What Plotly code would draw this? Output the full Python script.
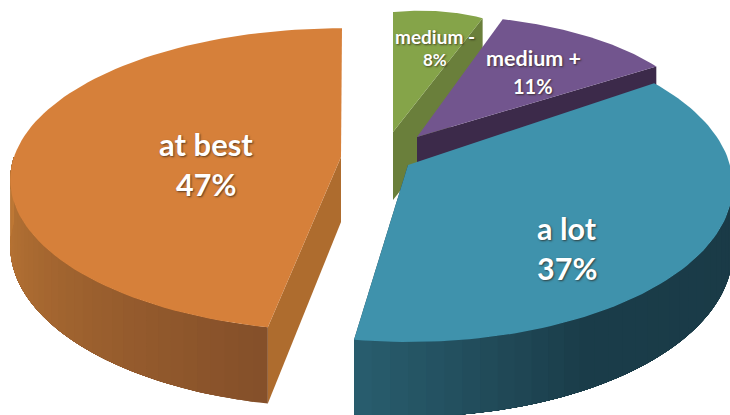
import numpy as np
import plotly.graph_objects as go

# Shares of the answers, in percent
labels = ["at best", "medium -", "medium +", "a lot"]
values = [47, 8, 11, 37]

# How each wedge sits in the exploded 3D pie
wedges = {
    "at best": dict(cx=341, cy=157, a=327, b=148, k=0.15, tilt=0, start=191.0, depth=65,
                    top="#D6803A", cut="#AE6C2E",
                    wall=[(191.0, "#85502A"), (270, "#C07A36")]),
    "medium -": dict(cx=393, cy=132, a=186, b=120, k=0.0, tilt=-18, start=0, depth=68,
                     top="#85A449", cut="#6A7F3B", wall=None),
    "medium +": dict(cx=417, cy=137, a=285, b=122, k=0.0, tilt=-5, start=17.5, depth=68,
                     top="#72558E", cut="#3C2A4A", wall=None),
    "a lot": dict(cx=408, cy=165, a=322, b=154, k=0.13, tilt=0, start=55.2, depth=65,
                  top="#3F92AC", cut="#1B3C48",
                  wall=[(90, "#1A3A46"), (150, "#1B3D4A"), (188.4, "#2A5F70")]),
}

# Label centres and font sizes: name x, y, size, then percentage x, y, size
text_spots = {
    "at best": (206, 144, 31, 206, 184, 30.5),
    "a lot": (567, 228, 30.5, 567, 268, 30.5),
    "medium +": (533, 58, 21.5, 533, 86, 20),
    "medium -": (435, 36, 19, 435, 59, 17),
}
draw_order = ["at best", "medium -", "medium +", "a lot"]


def project(w, theta):
    """Map a rim angle (degrees clockwise from 12 o'clock) to page coordinates."""
    t = np.radians(theta)
    u, v = np.sin(t), -np.cos(t)
    s = 1 / (1 - w["k"] * v)
    return w["cx"] + w["a"] * u * s, w["cy"] + w["b"] * v * s + w["tilt"] * u, s


def mix(stops, theta):
    rgb = [[int(c[i:i + 2], 16) for c in (s[1] for s in stops)] for i in (1, 3, 5)]
    pos = [s[0] for s in stops]
    return "rgb(%d,%d,%d)" % tuple(np.interp(theta, pos, ch) for ch in rgb)


def poly(xs, ys, color):
    return go.Scatter(x=list(xs), y=list(ys), mode="lines", fill="toself", fillcolor=color,
                      line=dict(color=color, width=0), hoverinfo="skip", showlegend=False)


fig = go.Figure()
for name in draw_order:
    w = wedges[name]
    share = values[labels.index(name)]
    start, end = w["start"], w["start"] + share * 3.6

    # Straight cut face running from the hub to the rim
    cut_angle = start if name == "at best" else end
    hx, hy = w["cx"], w["cy"]
    rx, ry, rs = project(w, cut_angle)
    fig.add_trace(poly([hx, rx, rx, hx], [hy, ry, ry + w["depth"] * rs, hy + w["depth"]], w["cut"]))

    # Curved outer wall: each band runs to the far end and the next one paints over it,
    # so no background shows between neighbouring bands
    if w["wall"]:
        lo, hi = w["wall"][0][0], w["wall"][-1][0]
        edges = np.linspace(lo, hi, 36)
        for t0 in edges[:-1]:
            ts = np.linspace(t0, hi, 60)
            x, y, s = project(w, ts)
            fig.add_trace(poly(np.r_[x, x[::-1]], np.r_[y, (y + w["depth"] * s)[::-1]],
                               mix(w["wall"], t0)))

    # Top face
    ts = np.linspace(start, end, 90)
    x, y, _ = project(w, ts)
    fig.add_trace(poly(np.r_[hx, x, hx], np.r_[hy, y, hy], w["top"]))

shadow = "1px 1px 2px rgba(40,30,20,0.7)"
for name, share in zip(labels, values):
    x1, y1, s1, x2, y2, s2 = text_spots[name]
    for x, y, size, text in ((x1, y1, s1, name), (x2, y2, s2, f"{share}%")):
        fig.add_annotation(x=x, y=y, text=text, showarrow=False, xanchor="center", yanchor="middle",
                           font=dict(family="Lato", size=size, color="#FFFFFF", weight=700, shadow=shadow))

fig.update_layout(
    width=730, height=415, margin=dict(l=0, r=0, t=0, b=0),
    paper_bgcolor="white", plot_bgcolor="white", showlegend=False,
    xaxis=dict(range=[0, 730], visible=False, fixedrange=True),
    yaxis=dict(range=[415, 0], visible=False, fixedrange=True),
)
fig.write_html("out.html", config=dict(displayModeBar=False))
